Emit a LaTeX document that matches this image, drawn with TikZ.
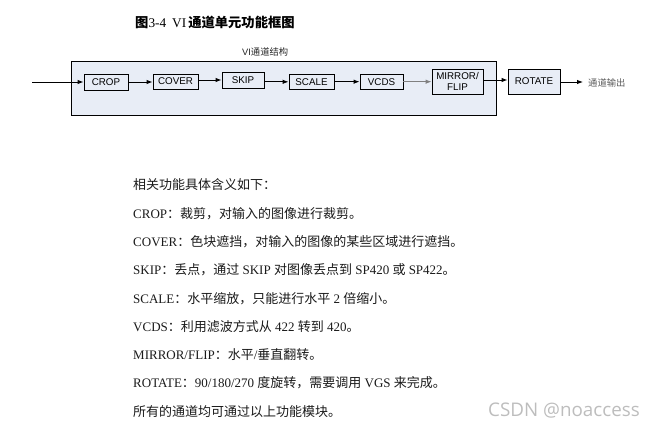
\documentclass[tikz,border=0pt]{standalone}
\usepackage{fontspec}
\setmainfont{Liberation Serif}
\setsansfont{Liberation Sans}
\newfontfamily\cjk{Noto Sans CJK SC}
\newfontfamily\wmfont{Open Sans}
\usetikzlibrary{arrows.meta}
\definecolor{panel}{HTML}{E8EDF6}
\definecolor{txt}{HTML}{1A1A1A}
\definecolor{wm}{HTML}{BDBDBD}
\tikzset{
  blk/.style={draw=black, line width=0.9pt, fill=panel, inner sep=0pt, align=center,
    font=\sffamily\fontsize{9.8}{10.8}\selectfont},
  arr/.style={line width=0.9pt, -{Latex[length=6pt,width=4.5pt]}},
  body/.style={anchor=west, inner sep=0pt, text=txt, font=\fontsize{13}{15}\selectfont},
}
\begin{document}
\begin{tikzpicture}[x=1pt,y=-1pt]
\useasboundingbox (0,0) rectangle (656,428);
% title
\node[anchor=west, inner sep=0pt, font=\fontsize{13.3}{15}\selectfont] (title) at (135,22)
  {{\cjk\bfseries 图}3-4\hspace{6pt}VI\hspace{2pt}{\cjk\bfseries 通道单元功能框图}};
\node[anchor=west, inner sep=0pt, text=black!85, font=\fontsize{9.3}{11}\selectfont] (sub) at (242,52)
  {\sffamily VI{\cjk 通道结构}};
% panel
\node[draw=black, line width=1pt, fill=panel, inner sep=0pt, minimum width=425pt, minimum height=53pt] (panel) at (283.5,88.5) {};
% blocks
\node[blk, minimum width=44pt, minimum height=16pt] (crop) at (106,82) {CROP};
\node[blk, minimum width=45pt, minimum height=15pt] (cover) at (175.5,81.5) {COVER};
\node[blk, minimum width=42pt, minimum height=16pt] (skip) at (243,80.3) {SKIP};
\node[blk, minimum width=45pt, minimum height=15pt] (scale) at (311.5,81.7) {SCALE};
\node[blk, minimum width=43pt, minimum height=15pt] (vcds) at (381.5,81.7) {VCDS};
\node[blk, minimum width=51pt, minimum height=25pt] (mirror) at (457.5,81.5) {MIRROR/\\FLIP};
\node[blk, minimum width=52pt, minimum height=25pt] (rotate) at (534,81.5) {ROTATE};
% connectors
\coordinate (in) at (32,82);
\coordinate (out) at (583,82);
\draw[arr] (in) -- (in -| crop.west);
\draw[arr] (crop.east) -- (crop.east -| cover.west);
\draw[arr] ([yshift=1.5pt]cover.east) -- ([yshift=1.5pt]cover.east -| skip.west);
\draw[arr] ([yshift=-1.5pt]skip.east) -- ([yshift=-1.5pt]skip.east -| scale.west);
\draw[arr] (scale.east) -- (scale.east -| vcds.west);
\draw[arr, draw=black!50] (vcds.east) -- (vcds.east -| mirror.west);
\draw[arr] ([yshift=1.5pt]mirror.east) -- ([yshift=1.5pt]mirror.east -| rotate.west);
\draw[arr] (rotate.east |- out) -- (out);
\node[anchor=west, inner sep=0pt, text=black!65, font=\cjk\fontsize{9.3}{11}\selectfont] (outlbl) at (588,83) {通道输出};
% body text
\node[body] (l0) at (133,185) {{\cjk 相关功能具体含义如下：}};
\node[body] (l1) at (133,213.3) {CROP{\cjk ：裁剪，对输入的图像进行裁剪。}};
\node[body] (l2) at (133,241.6) {COVER{\cjk ：色块遮挡，对输入的图像的某些区域进行遮挡。}};
\node[body] (l3) at (133,269.9) {SKIP{\cjk ：丢点，通过} SKIP {\cjk 对图像丢点到} SP420 {\cjk 或} SP422{\cjk 。}};
\node[body] (l4) at (133,298.2) {SCALE{\cjk ：水平缩放，只能进行水平} 2 {\cjk 倍缩小。}};
\node[body] (l5) at (133,326.5) {VCDS{\cjk ：利用滤波方式从} 422 {\cjk 转到} 420{\cjk 。}};
\node[body] (l6) at (133,354.8) {MIRROR/FLIP{\cjk ：水平}/{\cjk 垂直翻转。}};
\node[body] (l7) at (133,383.1) {ROTATE{\cjk ：}90/180/270 {\cjk 度旋转，需要调用} VGS {\cjk 来完成。}};
\node[body] (l8) at (133,411.4) {{\cjk 所有的通道均可通过以上功能模块。}};
% watermark
\node[anchor=east, inner sep=0pt, text=wm, font=\wmfont\fontsize{18.8}{20}\selectfont] (wmk) at (640,411) {CSDN @noaccess};
\end{tikzpicture}
\end{document}
